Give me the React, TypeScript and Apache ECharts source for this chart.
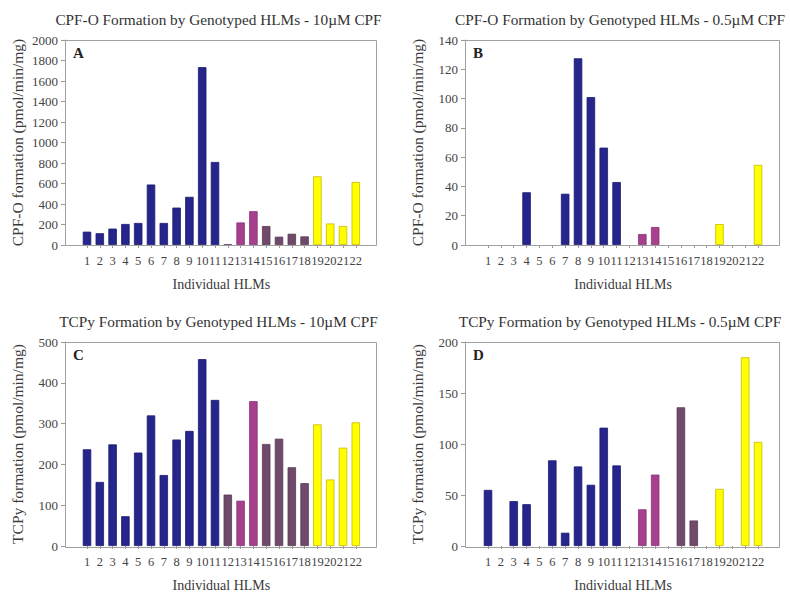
import React, { useEffect, useRef } from "react";
import * as echarts from "echarts";

const categories = ["1","2","3","4","5","6","7","8","9","10","11","12","13","14","15","16","17","18","19","20","21","22"];
// genotype group of each HLM: B = blue, M = mauve, P = pink, Y = yellow
const groups = ["B","B","B","B","B","B","B","B","B","B","B","M","P","P","M","M","M","M","Y","Y","Y","Y"];

const cpfO10 = [130, 115, 160, 205, 215, 590, 215, 365, 470, 1735, 810, 5, 220, 330, 185, 81, 110, 84, 670, 210, 185, 615];
const cpfO05 = [0, 0, 0, 36, 0, 0, 35, 127.5, 101, 66.5, 43, 0, 7.5, 12.3, 0, 0, 0, 0, 14.3, 0, 0, 54.7];
const tcpy10 = [237, 157, 249, 73, 229, 320, 174, 261, 282, 458, 358, 126, 111, 355, 250, 263, 193, 154, 298, 163, 241, 303];
const tcpy05 = [55, 0, 44, 41, 0, 84, 13, 78, 60, 116, 79, 0, 36, 70, 0, 136, 25, 0, 56, 0, 185, 102];

const titles = [
  "CPF-O Formation by Genotyped HLMs - 10\u00b5M CPF",
  "CPF-O Formation by Genotyped HLMs - 0.5\u00b5M CPF",
  "TCPy Formation by Genotyped HLMs - 10\u00b5M CPF",
  "TCPy Formation by Genotyped HLMs - 0.5\u00b5M CPF",
];
const panelLetters = ["A", "B", "C", "D"];
const yNames = [
  "CPF-O formation (pmol/min/mg)",
  "CPF-O formation (pmol/min/mg)",
  "TCPy formation (pmol/min/mg)",
  "TCPy formation (pmol/min/mg)",
];
const yMax = [2000, 140, 500, 200];
const yStep = [200, 20, 100, 50];
const xName = "Individual HLMs";

const colors: Record<string, { fill: string; border: string }> = {
  B: { fill: "#25258c", border: "#1c1c70" },
  M: { fill: "#6f4a6b", border: "#5a3a57" },
  P: { fill: "#a6408e", border: "#8a3276" },
  Y: { fill: "#ffff00", border: "#c9b800" },
};

const FONT = "Liberation Serif";

// layout boxes (frame) and category band position
const layout = [
  { left: 65, top: 40, right: 376, bottom: 245, first: 87, step: 12.8 },
  { left: 465, top: 40, right: 779, bottom: 245, first: 488, step: 12.86 },
  { left: 65, top: 342, right: 376, bottom: 547, first: 87, step: 12.8 },
  { left: 465, top: 342, right: 779, bottom: 547, first: 488, step: 12.86 },
];

export default function App() {
  const ref = useRef<HTMLDivElement>(null);
  useEffect(() => {
    if (!ref.current) return;
    const chart = echarts.init(ref.current, null, { renderer: "svg" });
    const datasets = [cpfO10, cpfO05, tcpy10, tcpy05];
    const grid: any[] = [];
    const xAxis: any[] = [];
    const yAxis: any[] = [];
    const series: any[] = [];
    const graphic: any[] = [];
    layout.forEach((b, i) => {
      const gLeft = b.first - b.step / 2;
      const gWidth = b.step * 22;
      grid.push({ left: gLeft, top: b.top, width: gWidth, height: b.bottom - b.top, containLabel: false });
      xAxis.push({
        gridIndex: i,
        type: "category",
        data: categories,
        axisLine: { show: false },
        axisTick: { show: true, alignWithLabel: true, length: 3, lineStyle: { color: "#9a9a9a" } },
        axisLabel: { interval: 0, margin: 9, fontSize: 12.5, fontFamily: FONT, color: "#444" },
        name: xName,
        nameLocation: "middle",
        nameGap: 32,
        nameTextStyle: { fontSize: 14, fontFamily: FONT, fontWeight: "normal", color: "#3a3a3a" },
      });
      yAxis.push({
        gridIndex: i,
        type: "value",
        min: 0,
        max: yMax[i],
        interval: yStep[i],
        offset: gLeft - b.left,
        splitLine: { show: false },
        axisLine: { show: true, lineStyle: { color: "#9a9a9a" } },
        axisTick: { show: true, length: 4, lineStyle: { color: "#9a9a9a" } },
        axisLabel: {
          margin: 7,
          fontSize: 13,
          fontFamily: FONT,
          color: "#444",
          formatter: (v: number) => String(v),
        },
        name: yNames[i],
        nameLocation: "middle",
        nameRotate: 90,
        nameGap: 40,
        nameTextStyle: { fontSize: 15.5, fontFamily: FONT, color: "#3a3a3a" },
      });
      series.push({
        type: "bar",
        xAxisIndex: i,
        yAxisIndex: i,
        barCategoryGap: "34%",
        data: datasets[i].map((v, k) => ({
          value: v,
          itemStyle: {
            color: colors[groups[k]].fill,
            borderColor: colors[groups[k]].border,
            borderWidth: v > 0 ? 0.8 : 0,
          },
        })),
      });
      graphic.push({
        type: "rect",
        z: 10,
        shape: { x: b.left + 0.5, y: b.top + 0.5, width: b.right - b.left, height: b.bottom - b.top },
        style: { fill: "none", stroke: "#a0a0a0", lineWidth: 1 },
      });
      graphic.push({
        type: "text",
        x: (b.left + b.right) / 2 - 2,
        y: b.top - 21,
        style: {
          text: titles[i],
          font: `15.3px ${FONT}`,
          fill: "#333",
          textAlign: "center",
          textVerticalAlign: "middle",
        },
      });
      graphic.push({
        type: "text",
        x: b.left + 8,
        y: b.top + 13,
        style: {
          text: panelLetters[i],
          font: `bold 15px ${FONT}`,
          fill: "#222",
          textAlign: "left",
          textVerticalAlign: "middle",
        },
      });
    });
    chart.setOption({
      animation: false,
      backgroundColor: "#ffffff",
      grid,
      xAxis,
      yAxis,
      series,
      graphic,
    });
    return () => chart.dispose();
  }, []);
  return (
    <div
      ref={ref}
      style={{ position: "absolute", left: 0, top: 0, width: 790, height: 593 }}
    />
  );
}
